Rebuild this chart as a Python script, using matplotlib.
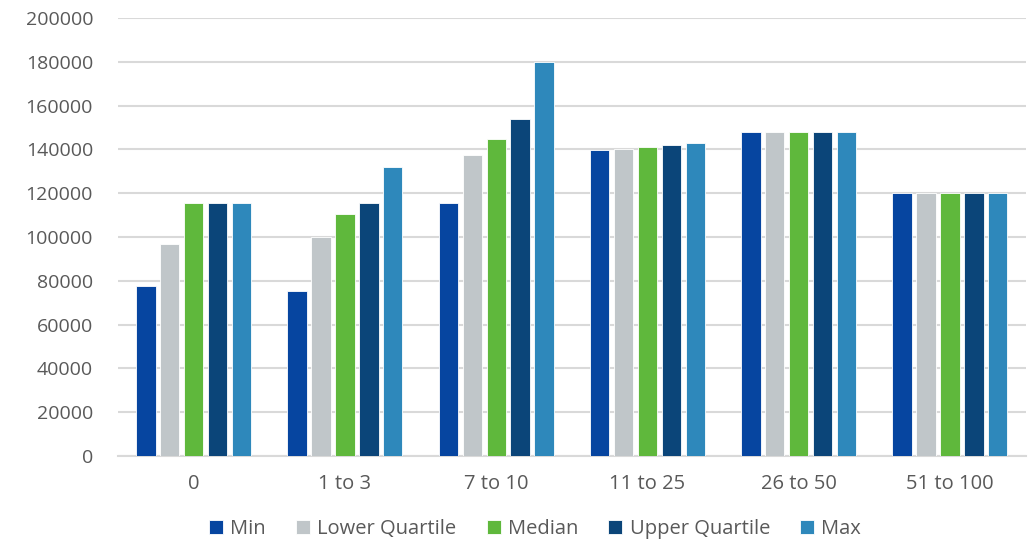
import matplotlib
matplotlib.use("Agg")
import matplotlib.pyplot as plt
import numpy as np

categories = ["0", "1 to 3", "7 to 10", "11 to 25", "26 to 50", "51 to 100"]
series_names = ["Min", "Lower Quartile", "Median", "Upper Quartile", "Max"]
min_vals = [77800, 75200, 115300, 139700, 148000, 120000]
lower_q = [96600, 99800, 137600, 140400, 148000, 120000]
median_vals = [115300, 110400, 144800, 141100, 148000, 120000]
upper_q = [115300, 115300, 153800, 142000, 148000, 120000]
max_vals = [115300, 131800, 180000, 142800, 148000, 120000]
yticks = [0, 20000, 40000, 60000, 80000, 100000, 120000, 140000, 160000, 180000, 200000]

colors = ["#0645a0", "#c0c6c9", "#5fb83c", "#0b4579", "#2e88bb"]
series = [min_vals, lower_q, median_vals, upper_q, max_vals]

plt.rcParams['font.family'] = ['Open Sans', 'DejaVu Sans']
fig = plt.figure(figsize=(10.29, 5.43), dpi=100)
ax = fig.add_axes([0.1147, 0.160, 0.882, 0.807])

x = np.arange(len(categories))
pitch = 0.158
width = 0.128
for i, (name, vals, c) in enumerate(zip(series_names, series, colors)):
    ax.bar(x + (i - 2) * pitch, vals, width=width, color=c, edgecolor="white",
           linewidth=0.6, label=name, zorder=3)

ax.set_xlim(-0.5, len(categories) - 0.5)
ax.set_ylim(0, 200000)
ax.set_yticks(yticks)
ax.set_yticklabels([str(v) for v in yticks])
ax.set_xticks(x)
ax.set_xticklabels(categories)
ax.grid(axis="y", color="#d9d9d9", linewidth=1.5, zorder=0)
ax.set_axisbelow(True)
for s in ["top", "right", "left"]:
    ax.spines[s].set_visible(False)
ax.spines["bottom"].set_color("#d9d9d9")
ax.spines["bottom"].set_linewidth(1.5)
ax.tick_params(axis="y", length=0, labelsize=14, colors="#595959", pad=18)
ax.tick_params(axis="x", length=0, labelsize=14.5, colors="#595959", pad=13)

handles, labels = ax.get_legend_handles_labels()
fig.legend(handles, labels, loc="center", bbox_to_anchor=(0.520, 0.025), ncol=5,
           frameon=False, fontsize=14.5, handlelength=0.7, handleheight=0.7,
           handletextpad=0.35, columnspacing=1.5, labelcolor="#595959")

fig.savefig("out.png", dpi=100)
